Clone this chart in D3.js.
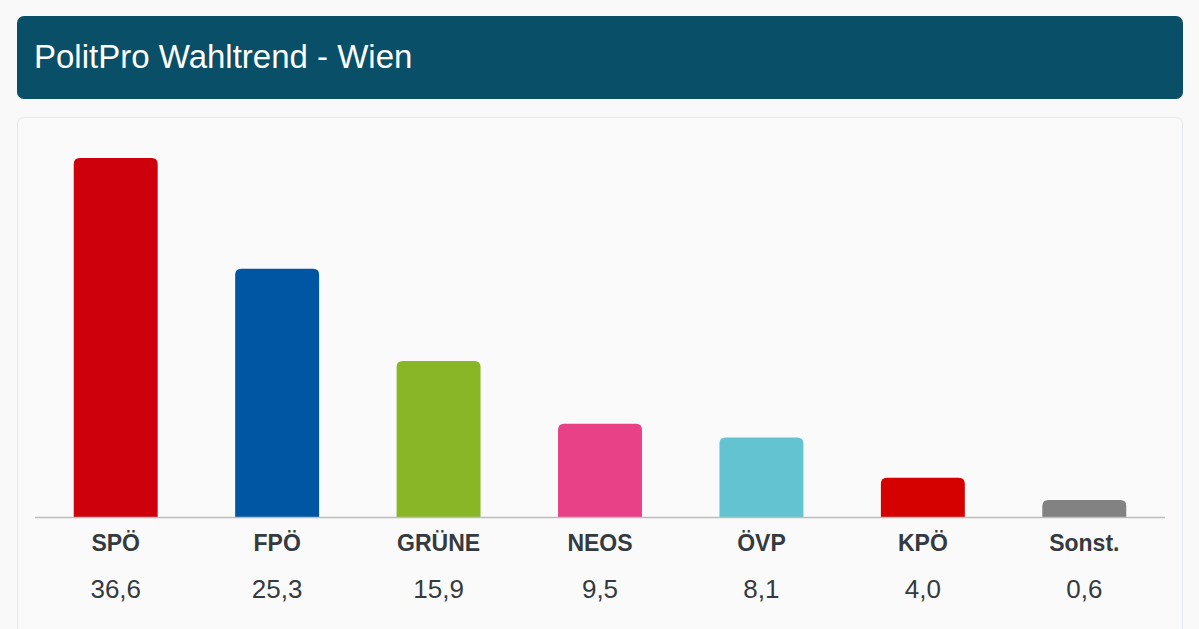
<!DOCTYPE html>
<html lang="de">
<head>
<meta charset="utf-8">
<script src="https://d3js.org/d3.v7.min.js"></script>
<style>
  body { margin: 0; background: #f9f9f9; }
  svg { display: block; font-family: "Liberation Sans", Arial, Helvetica, sans-serif; }
</style>
</head>
<body>
<div id="chart"></div>
<script>
// data
const parties = ['SPÖ', 'FPÖ', 'GRÜNE', 'NEOS', 'ÖVP', 'KPÖ', 'Sonst.'];
const values = [36.6, 25.3, 15.9, 9.5, 8.1, 4.0, 0.6];
const colors = ['#ce000c', '#0056a2', '#88b626', '#e84188', '#63c3d0', '#d50000', '#828282'];
const title = 'PolitPro Wahltrend - Wien';

const W = 1199, H = 629;
const svg = d3.select('#chart').append('svg').attr('width', W).attr('height', H);

// header box
svg.append('rect')
  .attr('x', 17).attr('y', 16).attr('width', 1166).attr('height', 83)
  .attr('rx', 7).attr('fill', '#0a4f68');
svg.append('text')
  .attr('x', 34).attr('y', 68)
  .attr('fill', '#fff').attr('font-size', 33)
  .text(title);

// card
svg.append('rect')
  .attr('x', 17.5).attr('y', 117.5).attr('width', 1165).attr('height', 540)
  .attr('rx', 6).attr('fill', '#fafafa').attr('stroke', '#e4e8ea');

const baseY = 517;
const x = d3.scaleBand().domain(parties).range([35, 1165]).paddingInner(0.48).paddingOuter(0.24);
const y = d3.scaleLinear().domain([0, 36.6]).range([baseY, 158]);
const minH = 17, r = 6;

const data = parties.map((p, i) => ({ p, v: values[i], c: colors[i] }));

// rounded-top bar path
const barPath = d => {
  const x0 = x(d.p), w = x.bandwidth();
  const h = Math.max(baseY - y(d.v), minH);
  const t = baseY - h;
  return `M${x0},${baseY}V${t + r}Q${x0},${t} ${x0 + r},${t}H${x0 + w - r}Q${x0 + w},${t} ${x0 + w},${t + r}V${baseY}Z`;
};

svg.append('g').selectAll('path').data(data).join('path')
  .attr('d', barPath)
  .attr('fill', d => d.c);

svg.append('line')
  .attr('x1', 35).attr('x2', 1165).attr('y1', baseY + 0.5).attr('y2', baseY + 0.5)
  .attr('stroke', '#bdbdbd').attr('stroke-width', 1.5);

const labels = svg.append('g').selectAll('g').data(data).join('g')
  .attr('transform', d => `translate(${x(d.p) + x.bandwidth() / 2},0)`);

labels.append('text')
  .attr('y', 551).attr('text-anchor', 'middle')
  .attr('font-size', 23).attr('font-weight', 'bold').attr('fill', '#343a40')
  .text(d => d.p);

labels.append('text')
  .attr('y', 598).attr('text-anchor', 'middle')
  .attr('font-size', 26).attr('fill', '#343a40')
  .text(d => d3.format('.1f')(d.v).replace('.', ','));
</script>
</body>
</html>
